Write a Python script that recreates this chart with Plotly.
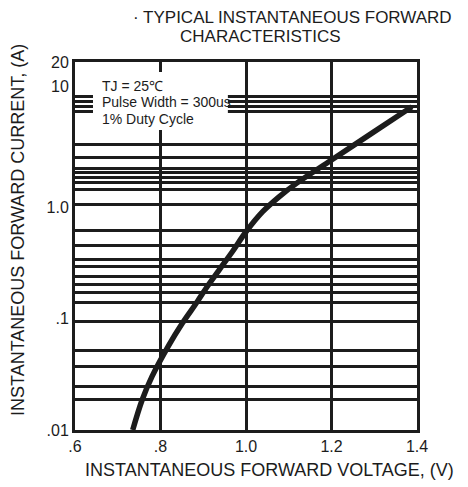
import math
import plotly.graph_objects as go

# ---- data ----
voltage = [0.735, 0.757, 0.780, 0.820, 0.851, 0.886, 0.909, 0.937, 0.968,
           1.000, 1.039, 1.078, 1.118, 1.200, 1.300, 1.388]
current = [0.0100, 0.0186, 0.0301, 0.0580, 0.0906, 0.1416, 0.193, 0.272, 0.397,
           0.600, 0.908, 1.24, 1.63, 2.64, 4.75, 7.94]

x_tick_vals = [0.6, 0.8, 1.0, 1.2, 1.4]
x_tick_text = [".6", ".8", "1.0", "1.2", "1.4"]

y_tick_vals = [0.01, 0.1, 1.0, 12, 20]
y_tick_text = [".01", ".1", "1.0", "10", "20"]

y_grid_vals = [9.8, 8.8, 7.9, 7.2, 3.67, 2.79, 2.22, 2.03, 1.85, 1.67, 1.44, 1.06,
               0.622, 0.456, 0.34, 0.292, 0.237, 0.204, 0.170, 0.140, 0.0936,
               0.0521, 0.037, 0.0244, 0.0186]

title_line1 = "\u00b7 TYPICAL INSTANTANEOUS FORWARD"
title_line2 = "CHARACTERISTICS"
x_title = "INSTANTANEOUS FORWARD VOLTAGE, (V)"
y_title = "INSTANTANEOUS FORWARD CURRENT, (A)"
note_lines = ["TJ = 25\u2103", "Pulse Width = 300us", "1% Duty Cycle"]

INK = "#1c1c1c"
FONT = "Liberation Sans, Arial, sans-serif"

fig = go.Figure()
fig.add_trace(go.Scatter(
    x=voltage, y=current, mode="lines",
    line=dict(color=INK, width=5.5, shape="spline", smoothing=1.0),
    hoverinfo="skip", showlegend=False,
))

fig.update_layout(
    width=460, height=479,
    margin=dict(l=67, r=51, t=54, b=57),
    paper_bgcolor="white", plot_bgcolor="white",
    font=dict(family=FONT, color=INK, size=16),
    showlegend=False,
)

fig.update_xaxes(
    range=[0.6, 1.4], tickvals=x_tick_vals, ticktext=x_tick_text,
    showgrid=True, gridcolor=INK, gridwidth=2.5,
    showline=True, linecolor=INK, linewidth=3, mirror=True,
    ticks="", tickfont=dict(size=16, family=FONT, color=INK),
    zeroline=False,
)
fig.update_yaxes(
    type="log", range=[-2, math.log10(20)],
    tickvals=y_tick_vals, ticktext=y_tick_text,
    showgrid=False,
    minor=dict(tickvals=y_grid_vals, showgrid=True, gridcolor=INK, gridwidth=2.5, ticks=""),
    showline=True, linecolor=INK, linewidth=3, mirror=True,
    ticks="", tickfont=dict(size=16, family=FONT, color=INK),
    zeroline=False,
)

# white box behind the test-condition note
fig.add_shape(type="rect", xref="paper", yref="paper",
              x0=0.0526, x1=0.447, y0=0.815, y1=0.973,
              fillcolor="white", line=dict(width=0), layer="above")

note_y = [0.934, 0.890, 0.844]
for txt, yy in zip(note_lines, note_y):
    fig.add_annotation(text=txt, xref="paper", yref="paper", x=0.072, y=yy,
                       xanchor="left", yanchor="middle", showarrow=False,
                       font=dict(size=14, family=FONT, color=INK))

fig.add_annotation(text=title_line1, xref="paper", yref="paper", x=1.108, y=1.1196,
                   xanchor="right", yanchor="middle", showarrow=False,
                   font=dict(size=17, family=FONT, color=INK))
fig.add_annotation(text=title_line2, xref="paper", yref="paper", x=0.541, y=1.068,
                   xanchor="center", yanchor="middle", showarrow=False,
                   font=dict(size=17, family=FONT, color=INK))
fig.add_annotation(text=x_title, xref="paper", yref="paper", x=0.570, y=-0.1087,
                   xanchor="center", yanchor="middle", showarrow=False,
                   font=dict(size=18, family=FONT, color=INK))
fig.add_annotation(text=y_title, xref="paper", yref="paper", x=-0.1667, y=0.5435,
                   xanchor="center", yanchor="middle", showarrow=False, textangle=-90,
                   font=dict(size=18, family=FONT, color=INK))

fig.write_html("out.html")
